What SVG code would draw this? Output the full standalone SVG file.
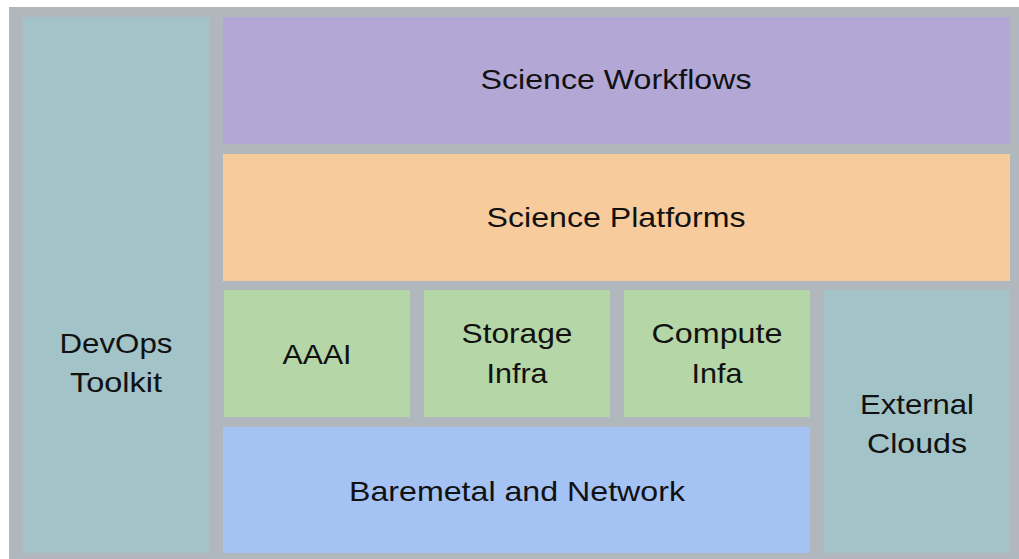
<svg xmlns="http://www.w3.org/2000/svg" width="1019" height="559" viewBox="0 0 1019 559">
<style>
text{font-family:"Liberation Sans",Arial,Helvetica,sans-serif;font-size:28px;fill:#111;text-anchor:middle}
.teal{fill:#a2c3c7}.purple{fill:#b3a7d5}.orange{fill:#f8cb9c}.green{fill:#b5d6a7}.blue{fill:#a4c2f4}
</style>
<rect x="9" y="7" width="1010" height="552" fill="#b0b8be"/>
<g id="devops"><rect class="teal" x="23" y="17" width="186" height="536"/><text x="116" y="353" textLength="113" lengthAdjust="spacingAndGlyphs">DevOps</text><text x="116" y="392" textLength="92" lengthAdjust="spacingAndGlyphs">Toolkit</text></g>
<g id="workflows"><rect class="purple" x="223" y="17" width="787" height="127"/><text x="616" y="89" textLength="271" lengthAdjust="spacingAndGlyphs">Science Workflows</text></g>
<g id="platforms"><rect class="orange" x="223" y="154" width="787" height="127"/><text x="616" y="227" textLength="259" lengthAdjust="spacingAndGlyphs">Science Platforms</text></g>
<g id="aaai"><rect class="green" x="224" y="290" width="186" height="127"/><text x="317" y="364" textLength="69" lengthAdjust="spacingAndGlyphs">AAAI</text></g>
<g id="storage"><rect class="green" x="424" y="290" width="186" height="127"/><text x="517" y="343" textLength="111" lengthAdjust="spacingAndGlyphs">Storage</text><text x="517" y="383" textLength="61" lengthAdjust="spacingAndGlyphs">Infra</text></g>
<g id="compute"><rect class="green" x="624" y="290" width="186" height="127"/><text x="717" y="343" textLength="131" lengthAdjust="spacingAndGlyphs">Compute</text><text x="717" y="383" textLength="51" lengthAdjust="spacingAndGlyphs">Infa</text></g>
<g id="external"><rect class="teal" x="824" y="290" width="186" height="263"/><text x="917" y="414" textLength="114" lengthAdjust="spacingAndGlyphs">External</text><text x="917" y="453" textLength="100" lengthAdjust="spacingAndGlyphs">Clouds</text></g>
<g id="baremetal"><rect class="blue" x="223" y="427" width="587" height="126"/><text x="517" y="501" textLength="336" lengthAdjust="spacingAndGlyphs">Baremetal and Network</text></g>
<g id="connectors"></g>
</svg>
